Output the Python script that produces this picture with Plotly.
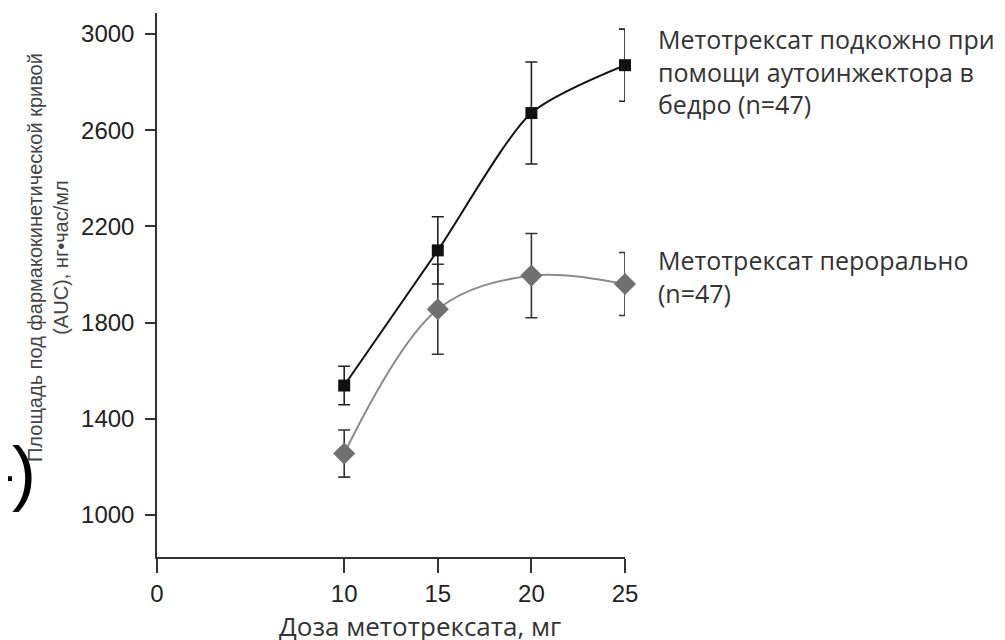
import plotly.graph_objects as go

# ---- data ----
doses = [10, 15, 20, 25]
sc_auc = [1538, 2100, 2671, 2870]
sc_err = [80, 140, 212, 150]
oral_auc = [1255, 1855, 1995, 1960]
oral_err = [98, 187, 175, 131]

x_ticks = [0, 10, 15, 20, 25]
y_ticks = [1000, 1400, 1800, 2200, 2600, 3000]

sc_label = "Метотрексат подкожно при<br>помощи аутоинжектора в<br>бедро (n=47)"
oral_label = "Метотрексат перорально<br>(n=47)"
x_title = "Доза метотрексата, мг"
y_title = "Площадь под фармакокинетической кривой<br>(AUC), нг•час/мл"

W, H = 1005, 640
OFF = 8  # page body margin in the browser
# plot area in page (viewport) pixels
X0, X1, Y0, Y1 = 157, 625, 13, 557
L, T = X0 - OFF, Y0 - OFF
pw, ph = X1 - X0, Y1 - Y0
R, B = W - L - pw, H - T - ph


def px(xp):
    return (xp - X0) / pw


def py(yp):
    return (Y1 - yp) / ph


fig = go.Figure()

fig.add_trace(go.Scatter(
    x=doses, y=oral_auc, mode="lines+markers", line_shape="spline",
    line=dict(color="#8a8a8a", width=2, smoothing=1.0),
    marker=dict(symbol="diamond", size=17, color="#707070"),
    error_y=dict(type="data", array=oral_err, color="#333333", thickness=1.6, width=6),
    cliponaxis=False, showlegend=False, name="oral"))

fig.add_trace(go.Scatter(
    x=doses, y=sc_auc, mode="lines+markers", line_shape="spline",
    line=dict(color="#111111", width=2, smoothing=0.7),
    marker=dict(symbol="square", size=12, color="#111111"),
    error_y=dict(type="data", array=sc_err, color="#222222", thickness=1.6, width=6),
    cliponaxis=False, showlegend=False, name="sc"))

tickfont = dict(family="Liberation Sans, Arial, sans-serif", size=24, color="#222222")

fig.update_xaxes(range=[0, 25], tickvals=x_ticks, ticks="outside", ticklen=14,
                 tickwidth=1.5, tickcolor="#333333", showline=True, linecolor="#333333",
                 linewidth=1.5, showgrid=False, zeroline=False, tickfont=tickfont)
fig.update_yaxes(range=[825, 3087], tickvals=y_ticks, ticks="outside", ticklen=10,
                 tickwidth=1.5, tickcolor="#333333", showline=True, linecolor="#333333",
                 linewidth=1.5, showgrid=False, zeroline=False, tickfont=tickfont,
                 ticklabelstandoff=6)

lab_font = dict(family="Open Sans, sans-serif", size=25, color="#333333")
annotations = [
    dict(text=sc_label, x=px(656), y=py(20), xanchor="left", yanchor="top",
         align="left", font=lab_font),
    dict(text=oral_label, x=px(656), y=py(241), xanchor="left", yanchor="top",
         align="left", font=lab_font),
    dict(text=x_title, x=px(420), y=py(626), xanchor="center", yanchor="middle",
         font=dict(family="Open Sans, sans-serif", size=26, color="#333333")),
    dict(text=y_title, x=px(48), y=py(258), xanchor="center", yanchor="middle",
         textangle=-90, align="center",
         font=dict(family="Liberation Sans, Arial, sans-serif", size=20, color="#444444")),
    dict(text="–)", x=px(38), y=py(472), xanchor="right", yanchor="middle",
         font=dict(family="Liberation Sans, Arial, sans-serif", size=72, color="#000000")),
]
for a in annotations:
    a.update(xref="paper", yref="paper", showarrow=False)

fig.update_layout(width=W, height=H, margin=dict(l=L, r=R, t=T, b=B, autoexpand=False),
                  paper_bgcolor="white", plot_bgcolor="white",
                  annotations=annotations)

fig.write_html("out.html")
